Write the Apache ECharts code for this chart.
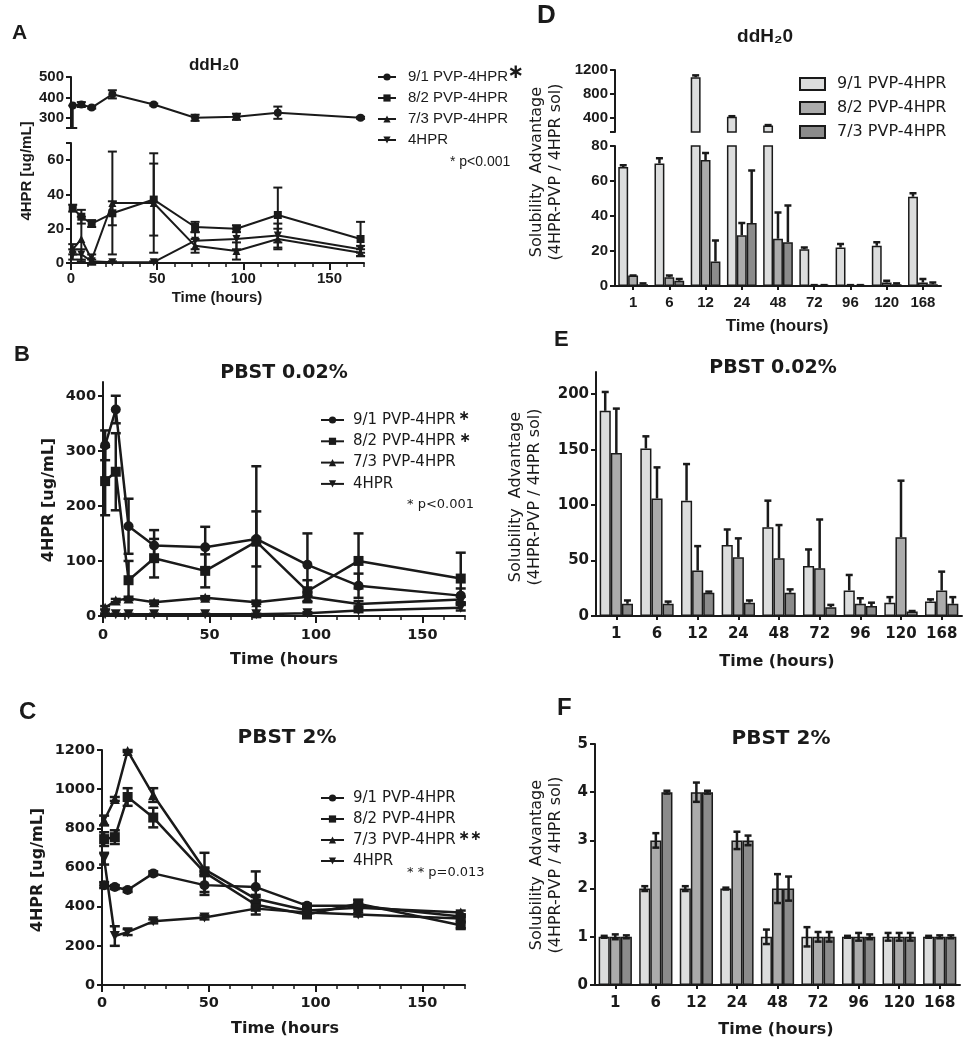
<!DOCTYPE html>
<html><head><meta charset="utf-8">
<script src="https://cdn.jsdelivr.net/npm/echarts@6/dist/echarts.min.js"></script>
<style>html,body{margin:0;padding:0;background:#fff}#c{width:971px;height:1050px}</style>
</head><body><div id="c"></div>
<script>
// ---------- data ----------
const hours = [1, 6, 12, 24, 48, 72, 96, 120, 168];
const hourLabels = ['1', '6', '12', '24', '48', '72', '96', '120', '168'];
const seriesNames = ['9/1 PVP-4HPR', '8/2 PVP-4HPR', '7/3 PVP-4HPR', '4HPR'];
const timeTicks = [0, 50, 100, 150];
const timeMinorTicks = [0, 10, 20, 30, 40, 50, 60, 70, 80, 90, 100, 110, 120, 130, 140, 150, 160, 170];

// Panel A (ddH2O, ug/mL) ; error entries: sd or [down, up]
const a91 = [360, 365, 350, 415, 365, 300, 305, 325, 300];
const a91Err = [[110, 0], 12, 5, 20, 5, 15, 15, 30, 5];
const a82 = [32, 27, 23, 29, 37, 21, 20, 28, 14];
const a82Err = [2, 4, 2, 7, 21, 3, 2, 16, 10];
const a73 = [8, 14, 2, 35, 35, 10, 7, 14, 6];
const a73Err = [3, 13, 3, 30, 29, 4, 5, 6, 2];
const a4 = [5, 5, 1, 0.5, 0.5, 13, 14, 16, 8];
const a4Err = [3, 3, 1, 0.5, 0.5, 5, 6, 7, 2];
const aUpperTicks = [250, 300, 400, 500];
const aUpperLabels = [300, 400, 500];
const aLowerTicks = [0, 20, 40, 60, 70];
const aLowerLabels = [0, 20, 40, 60];

// Panel B (PBST 0.02%)
const b91 = [310, 375, 163, 128, 125, 140, 93, 55, 37];
const b91Err = [27, 25, 50, 28, 37, 50, 57, 22, 13];
const b82 = [245, 262, 65, 105, 82, 135, 45, 100, 68];
const b82Err = [62, 70, 35, 35, 30, 137, 20, 50, 47];
const b73 = [15, 28, 32, 25, 33, 25, 35, 22, 30];
const b73Err = [3, 3, 3, 3, 3, 3, 8, 5, 5];
const b4 = [3, 3, 3, 3, 3, 3, 5, 10, 15];
const b4Err = [1, 1, 1, 1, 1, 1, 2, 3, 5];
const bTicks = [0, 100, 200, 300, 400];

// Panel C (PBST 2%)
const c91 = [510, 500, 485, 570, 510, 500, 405, 405, 350];
const c91Err = [15, 10, 10, 10, 50, 80, 10, 10, 10];
const c82 = [745, 755, 960, 855, 575, 410, 360, 415, 305];
const c82Err = [35, 35, 45, 50, 100, 50, 15, 20, 15];
const c73 = [840, 950, 1195, 970, 590, 440, 380, 395, 370];
const c73Err = [25, 10, 5, 35, 10, 10, 10, 10, 10];
const c4 = [645, 250, 270, 325, 345, 390, 370, 360, 340];
const c4Err = [30, 50, 15, 10, 10, 10, 10, 10, 10];
const cTicks = [0, 200, 400, 600, 800, 1000, 1200];

// Panel D (ddH2O, solubility advantage)
const d91 = [68, 70, 1080, 415, 268, 21, 22, 23, 51];
const d91Err = [1, 3, 30, 10, 8, 1, 2, 2, 2];
const d82 = [6, 5, 72, 29, 27, 0.5, 0.5, 2, 2];
const d82Err = [0, 1, 4, 7, 15, 0, 0, 1, 2];
const d73 = [1, 3, 14, 36, 25, 0.5, 0.5, 1, 1];
const d73Err = [0.5, 1, 12, 30, 21, 0, 0, 0.5, 1];
const dUpperTicks = [160, 400, 800, 1200];
const dUpperLabels = [400, 800, 1200];
const dLowerTicks = [0, 20, 40, 60, 80];

// Panel E (PBST 0.02%)
const e91 = [185, 151, 104, 64, 80, 45, 23, 12, 13];
const e91Err = [17, 11, 33, 14, 24, 15, 14, 5, 2];
const e82 = [147, 106, 41, 53, 52, 43, 11, 71, 23];
const e82Err = [40, 28, 22, 17, 30, 44, 5, 51, 17];
const e73 = [11, 11, 21, 12, 21, 8, 9, 4, 11];
const e73Err = [3, 2, 1, 2, 3, 2, 3, 0.5, 6];
const eTicks = [0, 50, 100, 150, 200];

// Panel F (PBST 2%)
const f91 = [1, 2, 2, 2, 1, 1, 1, 1, 1];
const f91Err = [0.02, 0.05, 0.05, 0.02, 0.15, 0.2, 0.02, 0.08, 0.02];
const f82 = [1, 3, 4, 3, 2, 1, 1, 1, 1];
const f82Err = [0.05, 0.15, 0.2, 0.18, 0.3, 0.1, 0.08, 0.08, 0.03];
const f73 = [1, 4, 4, 3, 2, 1, 1, 1, 1];
const f73Err = [0.03, 0.03, 0.03, 0.1, 0.25, 0.1, 0.05, 0.08, 0.03];
const fTicks = [0, 1, 2, 3, 4, 5];

// ---------- style ----------
const INK = '#1a1a1a';
const FA = '"Liberation Sans", Arial, sans-serif';
const FD = '"DejaVu Sans", sans-serif';
const BAR_COLORS = ['#dcdddd', '#ababab', '#8b8b8b'];
const BAR_GAP_FR = 0.18;
const SYMBOLS = ['circle', 'rect', 'triangle', 'path://M0,0L10,0L5,9Z'];
const plain = v => String(v);

// ---------- helpers ----------
function errRange(v, e) {
  return Array.isArray(e) ? [v - e[0], v + e[1]] : [v - e, v + e];
}
function lineErrRender(capW, lw) {
  return function (params, api) {
    const x = api.value(0), lo = api.value(1), hi = api.value(2);
    const pLo = api.coord([x, lo]), pHi = api.coord([x, hi]);
    const st = { stroke: INK, lineWidth: lw };
    return { type: 'group', children: [
      { type: 'line', shape: { x1: pLo[0], y1: pLo[1], x2: pHi[0], y2: pHi[1] }, style: st },
      { type: 'line', shape: { x1: pHi[0] - capW / 2, y1: pHi[1], x2: pHi[0] + capW / 2, y2: pHi[1] }, style: st },
      { type: 'line', shape: { x1: pLo[0] - capW / 2, y1: pLo[1], x2: pLo[0] + capW / 2, y2: pLo[1] }, style: st }
    ] };
  };
}
function lineSet(prefix, k, vals, errs, xi, yi, size, lw, capW) {
  return [
    { type: 'line', name: prefix + seriesNames[k], xAxisIndex: xi, yAxisIndex: yi,
      data: hours.map((h, i) => [h, vals[i]]), symbol: SYMBOLS[k], symbolSize: size,
      itemStyle: { color: INK }, lineStyle: { color: INK, width: lw }, z: 3, animation: false },
    { type: 'custom', xAxisIndex: xi, yAxisIndex: yi, silent: true, z: 2, animation: false,
      data: hours.map((h, i) => [h].concat(errRange(vals[i], errs[i]))),
      renderItem: lineErrRender(capW, lw) }
  ];
}
function barErrRender(both, capW, lw) {
  return function (params, api) {
    const ci = api.value(0), lo = api.value(1), hi = api.value(2), k = api.value(3);
    const band = api.size([1, 0])[0];
    const total = band * (1 - BAR_GAP_FR);
    const bw = total / 3;
    const base = api.coord([ci, lo]);
    const cx = base[0] - total / 2 + bw * (k + 0.5);
    const yLo = base[1], yHi = api.coord([ci, hi])[1];
    const st = { stroke: INK, lineWidth: lw };
    const ch = [
      { type: 'line', shape: { x1: cx, y1: yLo, x2: cx, y2: yHi }, style: st },
      { type: 'line', shape: { x1: cx - capW / 2, y1: yHi, x2: cx + capW / 2, y2: yHi }, style: st }
    ];
    if (both) ch.push({ type: 'line', shape: { x1: cx - capW / 2, y1: yLo, x2: cx + capW / 2, y2: yLo }, style: st });
    return { type: 'group', children: ch };
  };
}
function barSet(prefix, k, vals, errs, xi, yi, both, keepBar, keepErr) {
  const errData = [];
  vals.forEach((v, i) => { if (keepErr(v)) errData.push([i, both ? v - errs[i] : v, v + errs[i], k]); });
  return [
    { type: 'bar', name: prefix + seriesNames[k], xAxisIndex: xi, yAxisIndex: yi,
      data: vals.map(v => (keepBar(v) ? v : '-')), barGap: '0%', barCategoryGap: (BAR_GAP_FR * 100) + '%',
      itemStyle: { color: BAR_COLORS[k], borderColor: INK, borderWidth: 1.5 }, clip: true, z: 2, animation: false },
    { type: 'custom', xAxisIndex: xi, yAxisIndex: yi, silent: true, z: 4, animation: false,
      data: errData, renderItem: barErrRender(both, 7, 2.5) }
  ];
}
function grid(left, top, width, height) {
  return { left, top, width, height, containLabel: false, outerBoundsMode: 'none' };
}
function yVal(gi, min, max, ticks, labels, font, fs) {
  return { type: 'value', gridIndex: gi, min, max,
    axisLine: { show: true, onZero: false, lineStyle: { color: INK, width: 2 } },
    axisTick: { show: true, length: 5, customValues: ticks, lineStyle: { color: INK, width: 2 } },
    axisLabel: { show: true, customValues: labels, formatter: plain, color: INK, fontFamily: font, fontWeight: 'bold', fontSize: fs, margin: 7 },
    splitLine: { show: false } };
}
function xTime(gi, font, fs, margin) {
  return { type: 'value', gridIndex: gi, min: 0, max: 170, position: 'bottom',
    axisLine: { show: true, onZero: false, lineStyle: { color: INK, width: 2 } },
    axisTick: { show: true, length: 4, customValues: timeMinorTicks, lineStyle: { color: INK, width: 1.5 } },
    axisLabel: { show: true, customValues: timeTicks, formatter: plain, color: INK, fontFamily: font, fontWeight: 'bold', fontSize: fs, margin },
    splitLine: { show: false } };
}
function xTimeMajor(gi) {
  return { type: 'value', gridIndex: gi, min: 0, max: 170, position: 'bottom',
    axisLine: { show: false }, axisLabel: { show: false }, splitLine: { show: false },
    axisTick: { show: true, length: 7, customValues: timeTicks, lineStyle: { color: INK, width: 2 } } };
}
function xCat(gi, show, font, fs, margin) {
  return { type: 'category', gridIndex: gi, data: hourLabels, show, position: 'bottom',
    axisLine: { show: true, onZero: false, lineStyle: { color: INK, width: 2 } },
    axisTick: { show: true, alignWithLabel: true, length: 4, lineStyle: { color: INK, width: 2 } },
    axisLabel: { show: true, color: INK, fontFamily: font, fontWeight: 'bold', fontSize: fs, margin, interval: 0 },
    splitLine: { show: false } };
}
function lineLegend(prefix, left, top, itemW, font, fs, gap, pad) {
  return { show: true, left, top, orient: 'vertical', itemWidth: itemW, itemHeight: 9, itemGap: gap,
    selectedMode: false, data: seriesNames.map(n => prefix + n), formatter: n => n.slice(2),
    textStyle: { fontFamily: font, fontSize: fs, color: INK, lineHeight: 16, padding: [0, 0, 0, pad] } };
}
function txt(x, y, text, font, align, extra) {
  return Object.assign({ type: 'text', x, y, silent: true,
    style: { text, font, fill: INK, textAlign: align || 'center', textVerticalAlign: 'middle' } }, extra || {});
}
function vtxt(x, y, text, font, lh) {
  return { type: 'text', x, y, rotation: Math.PI / 2, silent: true,
    style: { text, font, fill: INK, textAlign: 'center', textVerticalAlign: 'middle', lineHeight: lh || 18 } };
}

// ---------- option ----------
const keepAll = () => true;
const upperD = v => v >= 160;
const lowerD = v => v <= 80;
const series = [].concat(
  lineSet('A|', 0, a91, a91Err, 0, 0, 8, 2, 9),
  lineSet('A|', 1, a82, a82Err, 1, 1, 8, 2, 9),
  lineSet('A|', 2, a73, a73Err, 1, 1, 8, 2, 9),
  lineSet('A|', 3, a4, a4Err, 1, 1, 8, 2, 9),
  lineSet('B|', 0, b91, b91Err, 2, 2, 10, 2.5, 10),
  lineSet('B|', 1, b82, b82Err, 2, 2, 10, 2.5, 10),
  lineSet('B|', 2, b73, b73Err, 2, 2, 10, 2.5, 10),
  lineSet('B|', 3, b4, b4Err, 2, 2, 10, 2.5, 10),
  lineSet('C|', 0, c91, c91Err, 3, 3, 10, 2.5, 10),
  lineSet('C|', 1, c82, c82Err, 3, 3, 10, 2.5, 10),
  lineSet('C|', 2, c73, c73Err, 3, 3, 10, 2.5, 10),
  lineSet('C|', 3, c4, c4Err, 3, 3, 10, 2.5, 10),
  barSet('D|', 0, d91, d91Err, 4, 4, false, upperD, upperD),
  barSet('D|', 1, d82, d82Err, 4, 4, false, upperD, upperD),
  barSet('D|', 2, d73, d73Err, 4, 4, false, upperD, upperD),
  barSet('D|', 0, d91, d91Err, 5, 5, false, keepAll, lowerD),
  barSet('D|', 1, d82, d82Err, 5, 5, false, keepAll, lowerD),
  barSet('D|', 2, d73, d73Err, 5, 5, false, keepAll, lowerD),
  barSet('E|', 0, e91, e91Err, 6, 6, false, keepAll, keepAll),
  barSet('E|', 1, e82, e82Err, 6, 6, false, keepAll, keepAll),
  barSet('E|', 2, e73, e73Err, 6, 6, false, keepAll, keepAll),
  barSet('F|', 0, f91, f91Err, 7, 7, true, keepAll, keepAll),
  barSet('F|', 1, f82, f82Err, 7, 7, true, keepAll, keepAll),
  barSet('F|', 2, f73, f73Err, 7, 7, true, keepAll, keepAll)
);

const option = {
  animation: false,
  backgroundColor: '#fff',
  grid: [
    grid(71, 77, 293, 51),    // A upper
    grid(71, 143, 293, 120),  // A lower
    grid(103, 382, 362, 234), // B
    grid(102, 750, 363, 235), // C
    grid(615, 70, 326, 62),   // D upper
    grid(615, 146, 326, 140), // D lower
    grid(596, 372, 366, 244), // E
    grid(595, 744, 365, 241)  // F
  ],
  xAxis: [
    { type: 'value', gridIndex: 0, min: 0, max: 170, show: false },
    xTime(1, FA, 15, 8),
    xTime(2, FD, 14.5, 12),
    xTime(3, FD, 14.5, 11),
    xCat(4, false, FA, 15, 9),
    xCat(5, true, FA, 15, 9),
    xCat(6, true, FD, 15, 11),
    xCat(7, true, FD, 15, 11),
    xTimeMajor(1), xTimeMajor(2), xTimeMajor(3)
  ],
  yAxis: [
    yVal(0, 250, 500, aUpperTicks, aUpperLabels, FA, 15),
    yVal(1, 0, 70, aLowerTicks, aLowerLabels, FA, 15),
    yVal(2, 0, 425, bTicks, bTicks, FD, 14.5),
    yVal(3, 0, 1200, cTicks, cTicks, FD, 14.5),
    yVal(4, 160, 1200, dUpperTicks, dUpperLabels, FA, 15),
    yVal(5, 0, 80, dLowerTicks, dLowerTicks, FA, 15),
    yVal(6, 0, 220, eTicks, eTicks, FD, 15),
    yVal(7, 0, 5, fTicks, fTicks, FD, 15)
  ],
  legend: [
    lineLegend('A|', 372, 64, 18, FA, 15, 5, 7),
    lineLegend('B|', 315, 407, 23, FD, 15, 5.3, 4),
    lineLegend('C|', 315, 785, 23, FD, 15, 5, 4),
    { show: true, left: 794, top: 71, orient: 'vertical', itemWidth: 25, itemHeight: 12, itemGap: 8,
      icon: 'rect', selectedMode: false, data: seriesNames.slice(0, 3).map(n => 'D|' + n), formatter: n => n.slice(2),
      textStyle: { fontFamily: FD, fontSize: 16, color: INK, lineHeight: 16, padding: [0, 0, 0, 7] } }
  ],
  graphic: { elements: [
    // panel letters
    txt(12, 33, 'A', 'bold 21px ' + FA, 'left'),
    txt(14, 355, 'B', 'bold 22px ' + FA, 'left'),
    txt(19, 712, 'C', 'bold 24px ' + FA, 'left'),
    txt(537, 16, 'D', 'bold 26px ' + FA, 'left'),
    txt(554, 340, 'E', 'bold 22px ' + FA, 'left'),
    txt(557, 708, 'F', 'bold 24px ' + FA, 'left'),
    // titles
    txt(214, 65, 'ddH\u20820', 'bold 17px ' + FA),
    txt(765, 37, 'ddH\u20820', 'bold 19px ' + FA),
    txt(284, 373, 'PBST 0.02%', 'bold 19px ' + FD),
    txt(287, 738, 'PBST 2%', 'bold 20px ' + FD),
    txt(773, 368, 'PBST 0.02%', 'bold 19px ' + FD),
    txt(781, 739, 'PBST 2%', 'bold 20px ' + FD),
    // x axis names
    txt(217, 298, 'Time (hours)', 'bold 15px ' + FA),
    txt(284, 660, 'Time (hours', 'bold 16px ' + FD),
    txt(285, 1029, 'Time (hours', 'bold 16px ' + FD),
    txt(777, 326, 'Time (hours)', 'bold 17px ' + FA),
    txt(777, 662, 'Time (hours)', 'bold 16px ' + FD),
    txt(776, 1030, 'Time (hours)', 'bold 16px ' + FD),
    // y axis names
    vtxt(27, 171, '4HPR [ug/mL]', 'bold 15px ' + FA),
    vtxt(49, 500, '4HPR [ug/mL]', 'bold 16px ' + FD),
    vtxt(38, 870, '4HPR [ug/mL]', 'bold 16px ' + FD),
    vtxt(546, 172, 'Solubility  Advantage\n(4HPR-PVP / 4HPR sol)', '16px ' + FD, 19),
    vtxt(525, 497, 'Solubility  Advantage\n(4HPR-PVP / 4HPR sol)', '16px ' + FD, 19),
    vtxt(546, 865, 'Solubility  Advantage\n(4HPR-PVP / 4HPR sol)', '16px ' + FD, 19),
    // significance marks
    txt(516, 73, '\u2217', 'bold 20px ' + FD),
    txt(464, 416, '\u2217', 'bold 14px ' + FD),
    txt(465, 438, '\u2217', 'bold 14px ' + FD),
    txt(470, 836, '\u2217\u2217', 'bold 14px ' + FD),
    txt(450, 162, '* p<0.001', '14px ' + FA, 'left'),
    txt(407, 505, '* p<0.001', '13px ' + FD, 'left'),
    txt(407, 873, '* * p=0.013', '13px ' + FD, 'left')
  ] },
  series
};

const chart = echarts.init(document.getElementById('c'), null, { renderer: 'canvas' });
chart.setOption(option);
</script>
</body></html>
